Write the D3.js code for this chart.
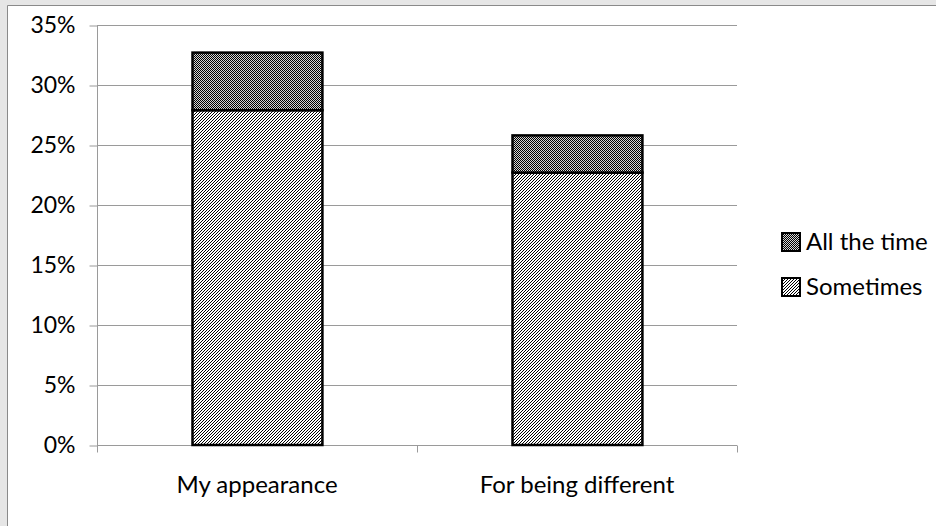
<!DOCTYPE html>
<html><head><meta charset="utf-8">
<script src="https://cdn.jsdelivr.net/npm/d3@7"></script>
<style>
html,body{margin:0;padding:0;background:#fff;}
svg{display:block;}
text{font-family:Lato,"Open Sans",sans-serif;fill:#000;}
</style></head>
<body>
<script>
const categories = ["My appearance", "For being different"];
const sometimes = [0.279, 0.227];
const allTheTime = [0.048, 0.031];
const seriesNames = ["Sometimes", "All the time"];
const yTicks = [0, 0.05, 0.10, 0.15, 0.20, 0.25, 0.30, 0.35];

const W = 936, H = 526;
const svg = d3.select("body").append("svg").attr("width", W).attr("height", H);

const defs = svg.append("defs");
const pc = defs.append("pattern").attr("id","checker").attr("patternUnits","userSpaceOnUse")
  .attr("width",2).attr("height",2);
pc.append("rect").attr("width",2).attr("height",2).attr("fill","#d4d4d4");
pc.append("rect").attr("x",0).attr("y",0).attr("width",1).attr("height",1).attr("fill","#000");
pc.append("rect").attr("x",1).attr("y",1).attr("width",1).attr("height",1).attr("fill","#000");
const pd = defs.append("pattern").attr("id","diag").attr("patternUnits","userSpaceOnUse")
  .attr("width",3).attr("height",3);
pd.append("rect").attr("width",3).attr("height",3).attr("fill","#fff");
[[0,2],[1,1],[2,0]].forEach(([x,y])=>pd.append("rect").attr("x",x).attr("y",y).attr("width",1).attr("height",1).attr("fill","#000"));

// frame
svg.append("rect").attr("x",0).attr("y",0).attr("width",W).attr("height",H).attr("fill","#e6e6e6");
svg.append("rect").attr("x",8).attr("y",6).attr("width",W).attr("height",H).attr("fill","#fff");
svg.append("line").attr("x1",7.5).attr("x2",7.5).attr("y1",5.5).attr("y2",H).attr("stroke","#8a8a8a");
svg.append("line").attr("x1",7.5).attr("x2",W).attr("y1",5.5).attr("y2",5.5).attr("stroke","#8a8a8a");

const x = d3.scaleBand().domain(categories).range([97,737]).paddingInner(0.594).paddingOuter(0.297);
const y = d3.scaleLinear().domain([0,0.35]).range([445,25]);

// gridlines
svg.append("g").selectAll("line").data(yTicks.slice(1)).join("line")
  .attr("x1",97).attr("x2",737)
  .attr("y1",d=>Math.round(y(d))+0.5).attr("y2",d=>Math.round(y(d))+0.5)
  .attr("stroke","#9a9a9a");

// y axis
const yAxis = d3.axisLeft(y).tickValues(yTicks).tickFormat(d3.format(".0%")).tickSize(8).tickPadding(14);
const gy = svg.append("g").attr("transform","translate(97.5,0.5)").call(yAxis);
gy.select(".domain").attr("stroke","#9a9a9a").attr("d","M0,"+y(0.35)+"V"+y(0));
gy.selectAll(".tick line").attr("stroke","#9a9a9a");
gy.selectAll(".tick text").style("font-size","23px").attr("font-family",null);

// x axis
const gx = svg.append("g").attr("transform","translate(0,445.5)");
gx.append("line").attr("x1",97).attr("x2",737).attr("stroke","#9a9a9a");
const bounds = [97, 97 + x.step(), 737];
gx.selectAll(".xt").data(bounds).join("line").attr("class","xt")
  .attr("x1",d=>Math.round(d)+0.5).attr("x2",d=>Math.round(d)+0.5).attr("y1",0).attr("y2",7)
  .attr("stroke","#9a9a9a");
gx.selectAll("text").data(categories).join("text")
  .attr("x",d=>x(d)+x.bandwidth()/2).attr("y",47.5).attr("text-anchor","middle")
  .style("font-size","24px").text(d=>d);

// bars
const stackData = categories.map((c,i)=>({cat:c, Sometimes:sometimes[i], "All the time":allTheTime[i]}));
const stacked = d3.stack().keys(seriesNames)(stackData);
const fills = {"Sometimes":"url(#diag)","All the time":"url(#checker)"};
stacked.forEach(s=>{
  svg.append("g").selectAll("rect").data(s).join("rect")
    .attr("x",d=>Math.round(x(d.data.cat))+0.5)
    .attr("y",d=>y(d[1]))
    .attr("width",x.bandwidth())
    .attr("height",d=>y(d[0])-y(d[1]))
    .attr("fill",fills[s.key]).attr("stroke","#000").attr("stroke-width",2.5);
});

// legend
const legendItems = ["All the time","Sometimes"];
const lg = svg.append("g").selectAll("g").data(legendItems).join("g")
  .attr("transform",(d,i)=>`translate(781,${232+i*45})`);
lg.append("rect").attr("x",1).attr("y",1).attr("width",18).attr("height",18)
  .attr("fill",d=>fills[d]).attr("stroke","#000").attr("stroke-width",2);
lg.append("text").attr("x",25).attr("y",18).style("font-size","24px").text(d=>d);
</script>
</body></html>
